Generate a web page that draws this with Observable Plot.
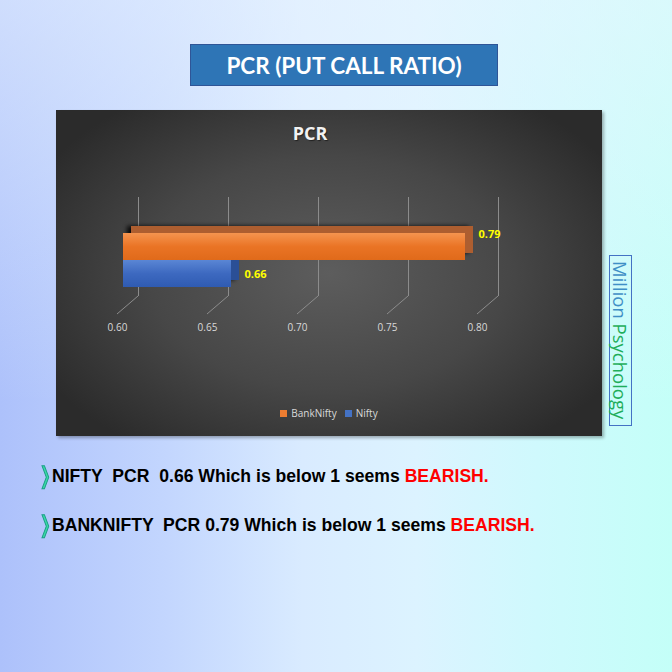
<!DOCTYPE html>
<html><head><meta charset="utf-8">
<script src="https://cdn.jsdelivr.net/npm/d3@7"></script>
<script src="https://cdn.jsdelivr.net/npm/@observablehq/plot@0.6"></script>
<style>
html,body{margin:0;padding:0;width:672px;height:672px;overflow:hidden}
body{position:relative;background:linear-gradient(to bottom,rgba(235,245,255,0.55) 0%,rgba(235,245,255,0) 60%),linear-gradient(90deg,#adc1fb 0%,#c3d6fe 25%,#d9ebff 45%,#dcf3ff 62%,#cff9fd 80%,#c4fff8 100%);font-family:"Liberation Sans",Arial,sans-serif}
#title{position:absolute;left:190px;top:44px;width:306px;height:40px;background:#2e75b6;border:1px solid #2f5597;color:#fff;font:bold 22.5px Lato,sans-serif;display:flex;align-items:center;justify-content:center}
#panel{position:absolute;left:56px;top:110px;width:546px;height:326px;background:radial-gradient(ellipse 60% 65% at 50% 50%,#5d5d5d 0%,#474747 55%,#2b2b2b 100%);box-shadow:2px 2px 3px rgba(0,0,0,.3)}
#ctitle{position:absolute;left:204px;top:13px;width:100px;text-align:center;color:#f2f2f2;font:bold 18px/20px "Open Sans",sans-serif;text-shadow:1px 1px 1px rgba(0,0,0,.5)}
#chart{position:absolute;left:0;top:40px}
#legend{position:absolute;left:0;top:296px;width:546px;text-align:center;font:10px/14px "Open Sans",sans-serif;color:#d9d9d9}
#legend span.sw{display:inline-block;width:7px;height:7px;margin-right:4px}
#legend span.it{margin:0 4px}
#wm{position:absolute;left:609px;top:255px;width:23px;height:171px;border:1px solid #4472c4;writing-mode:vertical-rl;font:18.5px/21px "Open Sans",sans-serif;text-align:center;box-sizing:border-box;padding-left:1px}
#wm .a{color:#3f8fc6}
#wm .b{color:#1fae5a}
.line{position:absolute;left:38px;font:bold 17.6px/20px "Liberation Sans",Arial,sans-serif;color:#000;white-space:pre}
.line .r{color:#ff0000}
.line .bl{color:#3bd9a6;-webkit-text-stroke:1.2px #1a9e86;font:bold 23px/20px "DejaVu Sans",sans-serif;display:inline-block;width:14px;text-align:left;transform:scaleX(0.75);transform-origin:left;vertical-align:-1px}
</style>
</head><body>
<div id="title">PCR (PUT CALL RATIO)</div>
<div id="panel">
  <div id="ctitle">PCR</div>
  <div id="chart"></div>
  <div id="legend"></div>
</div>
<div id="wm"><span class="a">Million</span> <span class="b">Psychology</span></div>
<div class="line" id="l1" style="top:465px"></div>
<div class="line" id="l2" style="top:514px"></div>
<script>
const categories = ["BankNifty", "Nifty"];
const pcrValues = [0.79, 0.66];
const seriesColors = ["#ed7d31", "#4472c4"];
const xDomain = [0.60, 0.80];
const xTicks = [0.60, 0.65, 0.70, 0.75, 0.80];
const notes = [
  ["NIFTY  PCR  0.66 Which is below 1 seems ", "BEARISH."],
  ["BANKNIFTY  PCR 0.79 Which is below 1 seems ", "BEARISH."]
];

const data = categories.map((name, i) => ({name, value: pcrValues[i]}));
const grads = ["gOrange", "gBlue"];
const sideColors = ["#ad5e30", "#2b4f96"];
const labelDy = [-13, 0];

const marks = [
  Plot.ruleX(xTicks, {x: d => d, dx: 21, stroke: "#8c8c8c", strokeWidth: 1}),
  (index, scales, values, dims) => {
    const g = d3.create("svg:g");
    const yb = dims.height - dims.marginBottom;
    g.selectAll("line").data(xTicks).join("line")
      .attr("x1", d => scales.x(d) + 21).attr("y1", yb)
      .attr("x2", d => scales.x(d)).attr("y2", yb + 18)
      .attr("stroke", "#8c8c8c").attr("stroke-width", 1);
    return g.node();
  },
  Plot.axisX(xTicks, {tickSize: 0, tickPadding: 27, tickFormat: d3.format(".2f"), fill: "#d9d9d9", fontSize: 10, label: null})
];
data.forEach((d, i) => {
  marks.push(Plot.barX([d], {x1: () => xDomain[0], x2: "value", y: "name", dx: 14, dy: -7, fill: sideColors[i], className: "backface"}));
});
data.forEach((d, i) => {
  marks.push(Plot.barX([d], {x1: () => xDomain[0], x2: "value", y: "name", dx: 6, fill: `url(#${grads[i]})`}));
  marks.push(Plot.text([d], {x: "value", y: "name", text: v => v.value.toFixed(2), dx: 19, dy: labelDy[i], textAnchor: "start", fill: "#ffff00", fontWeight: "bold", fontSize: 11}));
});

const chart = Plot.plot({
  width: 546,
  height: 200,
  marginLeft: 61,
  marginRight: 125,
  marginTop: 47,
  marginBottom: 54,
  style: {background: "transparent", fontFamily: "Open Sans", fontSize: "10px", color: "#d9d9d9"},
  x: {domain: xDomain, axis: null},
  y: {domain: categories, axis: null, paddingInner: 0, paddingOuter: 0.768, align: 0.79},
  marks
});
const defs = d3.select(chart).insert("defs", ":first-child");
const gradStops = [["#f5944f", "#ea7425", "#e06a1a"], ["#5a86d4", "#3d69c0", "#2f5bb2"]];
grads.forEach((id, i) => {
  const lg = defs.append("linearGradient").attr("id", id).attr("x1", 0).attr("y1", 0).attr("x2", 0).attr("y2", 1);
  gradStops[i].forEach((c, k) => lg.append("stop").attr("offset", k / 2).attr("stop-color", c));
});
d3.select(chart).selectAll(".backface").style("filter", "drop-shadow(-4px 0px 2px rgba(0,0,0,0.85))");
document.getElementById("chart").append(chart);

const legend = d3.select("#legend");
categories.forEach((c, i) => {
  const it = legend.append("span").attr("class", "it");
  it.append("span").attr("class", "sw").style("background", seriesColors[i]);
  it.append("span").text(c);
});

notes.forEach((n, i) => {
  const el = d3.select(i === 0 ? "#l1" : "#l2");
  el.append("span").attr("class", "bl").text("❭");
  el.append("span").text(n[0]);
  el.append("span").attr("class", "r").text(n[1]);
});
</script>
</body></html>
